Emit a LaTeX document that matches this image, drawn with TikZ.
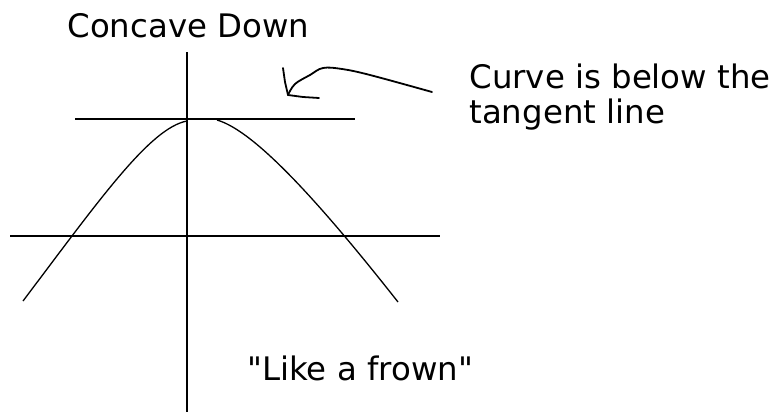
\documentclass[tikz,border=0pt]{standalone}
\usepackage{fontspec}
\setmainfont{DejaVu Sans}[Ligatures=TeXOff]
\begin{document}
\begin{tikzpicture}[x=0.5pt,y=-0.5pt,
  axis/.style={line width=0.9pt,black},
  curve/.style={line width=0.65pt,black},
  hand/.style={line width=0.9pt,black,line join=round,line cap=round},
  lbl/.style={anchor=base west,inner sep=0pt,font=\fontsize{16.2}{17.5}\selectfont}]
\useasboundingbox (0,0) rectangle (777,412);
% axes
\coordinate (ytop) at (187,52);
\coordinate (ybot) at (187,412);
\coordinate (xl) at (10,236);
\coordinate (xr) at (440,236);
\coordinate (tl) at (75,119);
\coordinate (tr) at (355,119);
\draw[axis] (ytop) -- (ybot);
\draw[axis] (xl) -- (xr);
\draw[axis] (tl) -- (tr);
% curve
\coordinate (cl) at (23,301);
\coordinate (ctop) at (187,121);
\coordinate (ctop2) at (217,120);
\coordinate (cr) at (398,302);
\draw[curve] (cl) .. controls (100,199) and (150,128) .. (ctop);
\draw[curve] (ctop2) .. controls (255,131) and (320,203) .. (cr);
% labels
\node[lbl] (title) at (67,38) {Concave Down};
\node[lbl] (note1) at (469,88) {Curve is below the};
\node[lbl] (note2) at (469,123) {tangent line};
\node[lbl] (frown) at (247,380) {"Like a frown"};
% hand-drawn arrow
\coordinate (as) at (432,92);
\coordinate (tip) at (288,95);
\coordinate (hA) at (283,68);
\coordinate (hB) at (319,98);
\draw[hand] plot[smooth,tension=0.6] coordinates {(as) (370,75) (342,69) (323,68) (310,75) (295,84) (tip)};
\draw[hand] (hA) -- (285,82) -- (tip) -- (303,97) -- (hB);
\end{tikzpicture}
\end{document}
